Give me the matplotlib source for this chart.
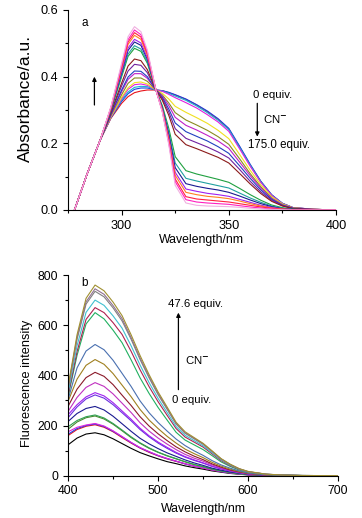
"""
UV-vis absorption (a) and fluorescence (b) titration spectra with CN-
"""

import matplotlib
matplotlib.use("Agg")
import matplotlib.pyplot as plt
from matplotlib.ticker import MultipleLocator

plt.rcParams["font.family"] = ["Liberation Sans", "DejaVu Sans"]
plt.rcParams["font.size"] = 8

# ---- (a) absorbance, 0 equiv. -> 175.0 equiv. ----
abs_wl = [278, 284, 290, 295, 300, 303, 306, 309, 312, 316, 319, 322, 325,
          330, 335, 340, 345, 350, 355, 360, 365, 370, 375, 380, 390, 400]

abs_curves = [
    [0, 0.11, 0.21, 0.275, 0.320, 0.340, 0.352, 0.357, 0.360, 0.36, 0.358, 0.352, 0.345,
     0.332, 0.315, 0.295, 0.272, 0.243, 0.190, 0.135, 0.085, 0.045, 0.020, 0.007, 0.002, 0],
    [0, 0.11, 0.21, 0.277, 0.326, 0.349, 0.362, 0.366, 0.366, 0.36, 0.358, 0.353, 0.346,
     0.333, 0.316, 0.297, 0.274, 0.245, 0.192, 0.137, 0.086, 0.046, 0.020, 0.007, 0.002, 0],
    [0, 0.11, 0.21, 0.278, 0.330, 0.354, 0.368, 0.371, 0.370, 0.36, 0.357, 0.350, 0.342,
     0.329, 0.312, 0.292, 0.269, 0.241, 0.188, 0.134, 0.084, 0.045, 0.020, 0.007, 0.002, 0],
    [0, 0.11, 0.21, 0.279, 0.334, 0.362, 0.376, 0.378, 0.374, 0.36, 0.356, 0.347, 0.337,
     0.322, 0.306, 0.286, 0.264, 0.236, 0.184, 0.131, 0.082, 0.044, 0.019, 0.007, 0.002, 0],
    [0, 0.11, 0.21, 0.280, 0.338, 0.367, 0.382, 0.384, 0.378, 0.36, 0.350, 0.333, 0.311,
     0.293, 0.277, 0.260, 0.239, 0.214, 0.167, 0.119, 0.075, 0.040, 0.018, 0.006, 0.002, 0],
    [0, 0.11, 0.21, 0.283, 0.346, 0.380, 0.396, 0.396, 0.386, 0.36, 0.345, 0.321, 0.292,
     0.270, 0.255, 0.239, 0.220, 0.197, 0.154, 0.109, 0.069, 0.036, 0.016, 0.006, 0.002, 0],
    [0, 0.11, 0.21, 0.285, 0.355, 0.392, 0.409, 0.409, 0.395, 0.36, 0.342, 0.313, 0.278,
     0.254, 0.240, 0.224, 0.207, 0.185, 0.144, 0.103, 0.065, 0.034, 0.015, 0.005, 0.002, 0],
    [0, 0.11, 0.21, 0.287, 0.360, 0.399, 0.417, 0.416, 0.400, 0.36, 0.338, 0.303, 0.261,
     0.235, 0.221, 0.207, 0.190, 0.170, 0.133, 0.095, 0.060, 0.032, 0.014, 0.005, 0.001, 0],
    [0, 0.11, 0.21, 0.290, 0.372, 0.417, 0.437, 0.434, 0.412, 0.36, 0.334, 0.294, 0.244,
     0.215, 0.202, 0.189, 0.174, 0.156, 0.122, 0.086, 0.054, 0.029, 0.013, 0.004, 0.001, 0],
    [0, 0.11, 0.21, 0.293, 0.381, 0.432, 0.453, 0.448, 0.421, 0.36, 0.329, 0.284, 0.227,
     0.196, 0.184, 0.171, 0.158, 0.141, 0.110, 0.078, 0.049, 0.026, 0.012, 0.004, 0.001, 0],
    [0, 0.11, 0.21, 0.298, 0.400, 0.461, 0.485, 0.476, 0.440, 0.36, 0.313, 0.245, 0.160,
     0.118, 0.108, 0.100, 0.092, 0.083, 0.065, 0.046, 0.029, 0.015, 0.007, 0.002, 0, 0],
    [0, 0.11, 0.21, 0.300, 0.405, 0.468, 0.493, 0.483, 0.445, 0.36, 0.308, 0.234, 0.141,
     0.095, 0.087, 0.080, 0.073, 0.066, 0.051, 0.036, 0.023, 0.012, 0.005, 0.002, 0, 0],
    [0, 0.11, 0.21, 0.302, 0.412, 0.479, 0.504, 0.494, 0.452, 0.36, 0.305, 0.226, 0.127,
     0.079, 0.071, 0.065, 0.060, 0.053, 0.042, 0.030, 0.019, 0.010, 0.004, 0.002, 0, 0],
    [0, 0.11, 0.21, 0.303, 0.417, 0.486, 0.512, 0.501, 0.457, 0.36, 0.302, 0.218, 0.113,
     0.063, 0.056, 0.050, 0.046, 0.041, 0.032, 0.023, 0.014, 0.008, 0.003, 0.001, 0, 0],
    [0, 0.11, 0.21, 0.305, 0.424, 0.497, 0.524, 0.512, 0.464, 0.36, 0.300, 0.213, 0.104,
     0.053, 0.046, 0.041, 0.038, 0.034, 0.027, 0.019, 0.012, 0.006, 0.003, 0.001, 0, 0],
    [0, 0.11, 0.21, 0.307, 0.429, 0.504, 0.532, 0.519, 0.469, 0.36, 0.297, 0.206, 0.093,
     0.040, 0.033, 0.030, 0.027, 0.024, 0.019, 0.014, 0.009, 0.005, 0.002, 0.001, 0, 0],
    [0, 0.11, 0.21, 0.308, 0.434, 0.511, 0.540, 0.526, 0.474, 0.36, 0.295, 0.201, 0.085,
     0.031, 0.024, 0.021, 0.019, 0.017, 0.013, 0.009, 0.006, 0.003, 0.001, 0, 0, 0],
    [0, 0.11, 0.21, 0.310, 0.440, 0.520, 0.550, 0.535, 0.480, 0.36, 0.293, 0.196, 0.074,
     0.021, 0.014, 0.012, 0.011, 0.010, 0.008, 0.005, 0.003, 0.002, 0.001, 0, 0, 0],
]

abs_colors = ["#e8141b", "#1a3fe0", "#18b4d0", "#e020e0", "#f0e020", "#8a8a20",
              "#c020c8", "#2040c0", "#7020a0", "#8b1a1a", "#20a040", "#20a0a0",
              "#1a1a90", "#a020f0", "#ff8020", "#ff2040", "#ff20c0", "#f0b0e0"]

# ---- (b) fluorescence, 0 equiv. -> 47.6 equiv. ----
fl_wl = [400, 410, 420, 430, 440, 450, 460, 470, 480, 490, 500, 510, 520,
         530, 540, 550, 560, 570, 580, 590, 600, 620, 640, 660, 700]

fl_curves = [
    [123, 150, 166, 171, 163, 147, 128, 109, 92, 79, 67, 56, 48, 39, 32, 26, 19, 14, 9, 6, 3, 1, 0.5, 0, 0],
    [160, 184, 197, 203, 193, 175, 152, 130, 110, 93, 79, 67, 57, 47, 38, 30, 22, 16, 11, 7, 4, 1.4, 0.6, 0.2, 0],
    [165, 188, 200, 206, 196, 177, 155, 132, 111, 95, 80, 68, 58, 47, 38, 31, 23, 16, 11, 7, 4, 1.4, 0.6, 0.2, 0],
    [175, 193, 202, 208, 198, 179, 156, 133, 112, 96, 81, 69, 58, 48, 38, 31, 23, 17, 11, 7, 4, 1.5, 0.6, 0.2, 0],
    [185, 214, 231, 238, 226, 205, 179, 152, 129, 109, 93, 79, 67, 55, 44, 36, 26, 19, 13, 8, 5, 1.7, 0.7, 0.2, 0],
    [195, 220, 235, 242, 230, 208, 182, 155, 131, 111, 94, 80, 68, 56, 45, 36, 27, 19, 13, 8, 5, 1.7, 0.7, 0.2, 0],
    [216, 248, 268, 276, 262, 237, 207, 177, 149, 127, 108, 91, 77, 63, 51, 41, 30, 22, 15, 10, 6, 2, 0.8, 0.3, 0],
    [231, 274, 306, 322, 309, 283, 251, 219, 184, 155, 130, 109, 90, 74, 61, 50, 37, 27, 18, 12, 7, 2.3, 1, 0.3, 0],
    [243, 283, 314, 331, 318, 291, 258, 225, 189, 159, 134, 113, 93, 76, 63, 51, 38, 27, 19, 12, 7, 2.3, 1, 0.3, 0],
    [256, 312, 352, 371, 356, 326, 289, 252, 211, 178, 150, 126, 104, 85, 70, 58, 43, 31, 21, 13, 8, 2.6, 1.1, 0.4, 0],
    [276, 345, 391, 412, 396, 363, 321, 280, 235, 198, 167, 140, 115, 95, 78, 64, 47, 34, 23, 15, 9, 2.9, 1.2, 0.4, 0],
    [296, 385, 440, 463, 444, 407, 361, 315, 264, 222, 188, 157, 130, 106, 88, 72, 53, 38, 26, 17, 10, 3.2, 1.4, 0.5, 0],
    [303, 430, 497, 523, 502, 460, 408, 356, 298, 251, 212, 178, 146, 120, 99, 81, 60, 43, 30, 19, 11, 3.7, 1.6, 0.5, 0],
    [315, 480, 605, 650, 625, 580, 530, 462, 390, 328, 272, 222, 173, 142, 123, 104, 80, 55, 37, 23, 14, 5, 2, 0.7, 0],
    [320, 495, 623, 670, 650, 610, 563, 496, 422, 355, 295, 241, 188, 154, 134, 114, 87, 60, 40, 25, 15, 5.4, 2, 0.7, 0],
    [330, 518, 651, 700, 679, 637, 588, 518, 441, 371, 308, 252, 196, 161, 140, 119, 91, 63, 42, 26, 15, 5.6, 2.1, 0.7, 0],
    [345, 544, 684, 735, 713, 669, 617, 544, 463, 390, 323, 265, 206, 169, 147, 125, 96, 66, 44, 27, 16, 5.9, 2.2, 0.7, 0],
    [350, 551, 693, 745, 723, 678, 626, 551, 469, 395, 328, 268, 209, 171, 149, 127, 97, 67, 45, 28, 16, 6, 2.2, 0.7, 0],
    [355, 562, 707, 760, 737, 692, 638, 562, 479, 403, 334, 274, 213, 175, 152, 129, 99, 68, 46, 28, 17, 6, 2.3, 0.8, 0],
]

fl_colors = ["#000000", "#e8141b", "#2040e0", "#e020e0", "#4a8a30", "#30a050",
             "#1a1a90", "#6a30e0", "#a020f0", "#c030c0", "#8b1a2a", "#a08020",
             "#4a70b0", "#20b060", "#b02050", "#40c0d0", "#808080", "#907090",
             "#a09030"]


def style_axes(ax, labelsize):
    ax.spines["top"].set_visible(False)
    ax.spines["right"].set_visible(False)
    ax.tick_params(which="major", direction="out", length=3.5, width=0.8, labelsize=labelsize)
    ax.tick_params(which="minor", direction="out", length=2, width=0.8)


def up_arrow(ax, x, y0, y1):
    ax.annotate("", xy=(x, y1), xytext=(x, y0),
                arrowprops=dict(arrowstyle="-|>", color="black", lw=0.9,
                                mutation_scale=6, shrinkA=0, shrinkB=0))


def main():
    fig = plt.figure(figsize=(3.62, 5.18), dpi=100)

    # (a) absorbance
    ax1 = fig.add_axes([0.188, 0.5946, 0.740, 0.3861])
    for ys, c in zip(abs_curves, abs_colors):
        ax1.plot(abs_wl, ys, color=c, linewidth=0.8)
    ax1.set_xlim(275, 400)
    ax1.set_ylim(0, 0.6)
    ax1.xaxis.set_major_locator(MultipleLocator(50))
    ax1.xaxis.set_minor_locator(MultipleLocator(25))
    ax1.yaxis.set_major_locator(MultipleLocator(0.2))
    ax1.yaxis.set_minor_locator(MultipleLocator(0.1))
    ax1.yaxis.set_major_formatter(plt.FuncFormatter(lambda v, p: f"{v:.1f}"))
    style_axes(ax1, 9.2)
    ax1.set_xlabel("Wavelength/nm", fontsize=8.8, labelpad=2)
    ax1.set_ylabel("Absorbance/a.u.", fontsize=12.5)
    ax1.yaxis.set_label_coords(-0.131, 0.56)
    ax1.text(0.05, 0.935, "a", transform=ax1.transAxes, fontsize=8.5, va="center")

    up_arrow(ax1, 287.3, 0.315, 0.40)
    up_arrow(ax1, 363.3, 0.32, 0.22)
    ax1.text(361.4, 0.345, "0 equiv.", fontsize=8.2, va="center")
    ax1.text(366.1, 0.272, "CN$^{\\mathbf{-}}$", fontsize=8.2, va="center")
    ax1.text(359.1, 0.196, "175.0 equiv.", fontsize=8.3, va="center")

    # (b) fluorescence
    ax2 = fig.add_axes([0.188, 0.0817, 0.746, 0.3874])
    for ys, c in zip(fl_curves, fl_colors):
        ax2.plot(fl_wl, ys, color=c, linewidth=0.8)
    ax2.set_xlim(400, 700)
    ax2.set_ylim(0, 800)
    ax2.xaxis.set_major_locator(MultipleLocator(100))
    ax2.xaxis.set_minor_locator(MultipleLocator(50))
    ax2.yaxis.set_major_locator(MultipleLocator(200))
    ax2.yaxis.set_minor_locator(MultipleLocator(100))
    style_axes(ax2, 8.8)
    ax2.set_xlabel("Wavelength/nm", fontsize=8.8, labelpad=4)
    ax2.set_ylabel("Fluorescence intensity", fontsize=9.2)
    ax2.yaxis.set_label_coords(-0.129, 0.46)
    ax2.text(0.05, 0.958, "b", transform=ax2.transAxes, fontsize=8.5, va="center")

    up_arrow(ax2, 522.6, 343, 650)
    ax2.text(511, 686, "47.6 equiv.", fontsize=8.2, va="center")
    ax2.text(530, 463, "CN$^{\\mathbf{-}}$", fontsize=8.2, va="center")
    ax2.text(516, 303, "0 equiv.", fontsize=8.2, va="center")

    fig.savefig("out.png", dpi=100)


if __name__ == "__main__":
    main()
